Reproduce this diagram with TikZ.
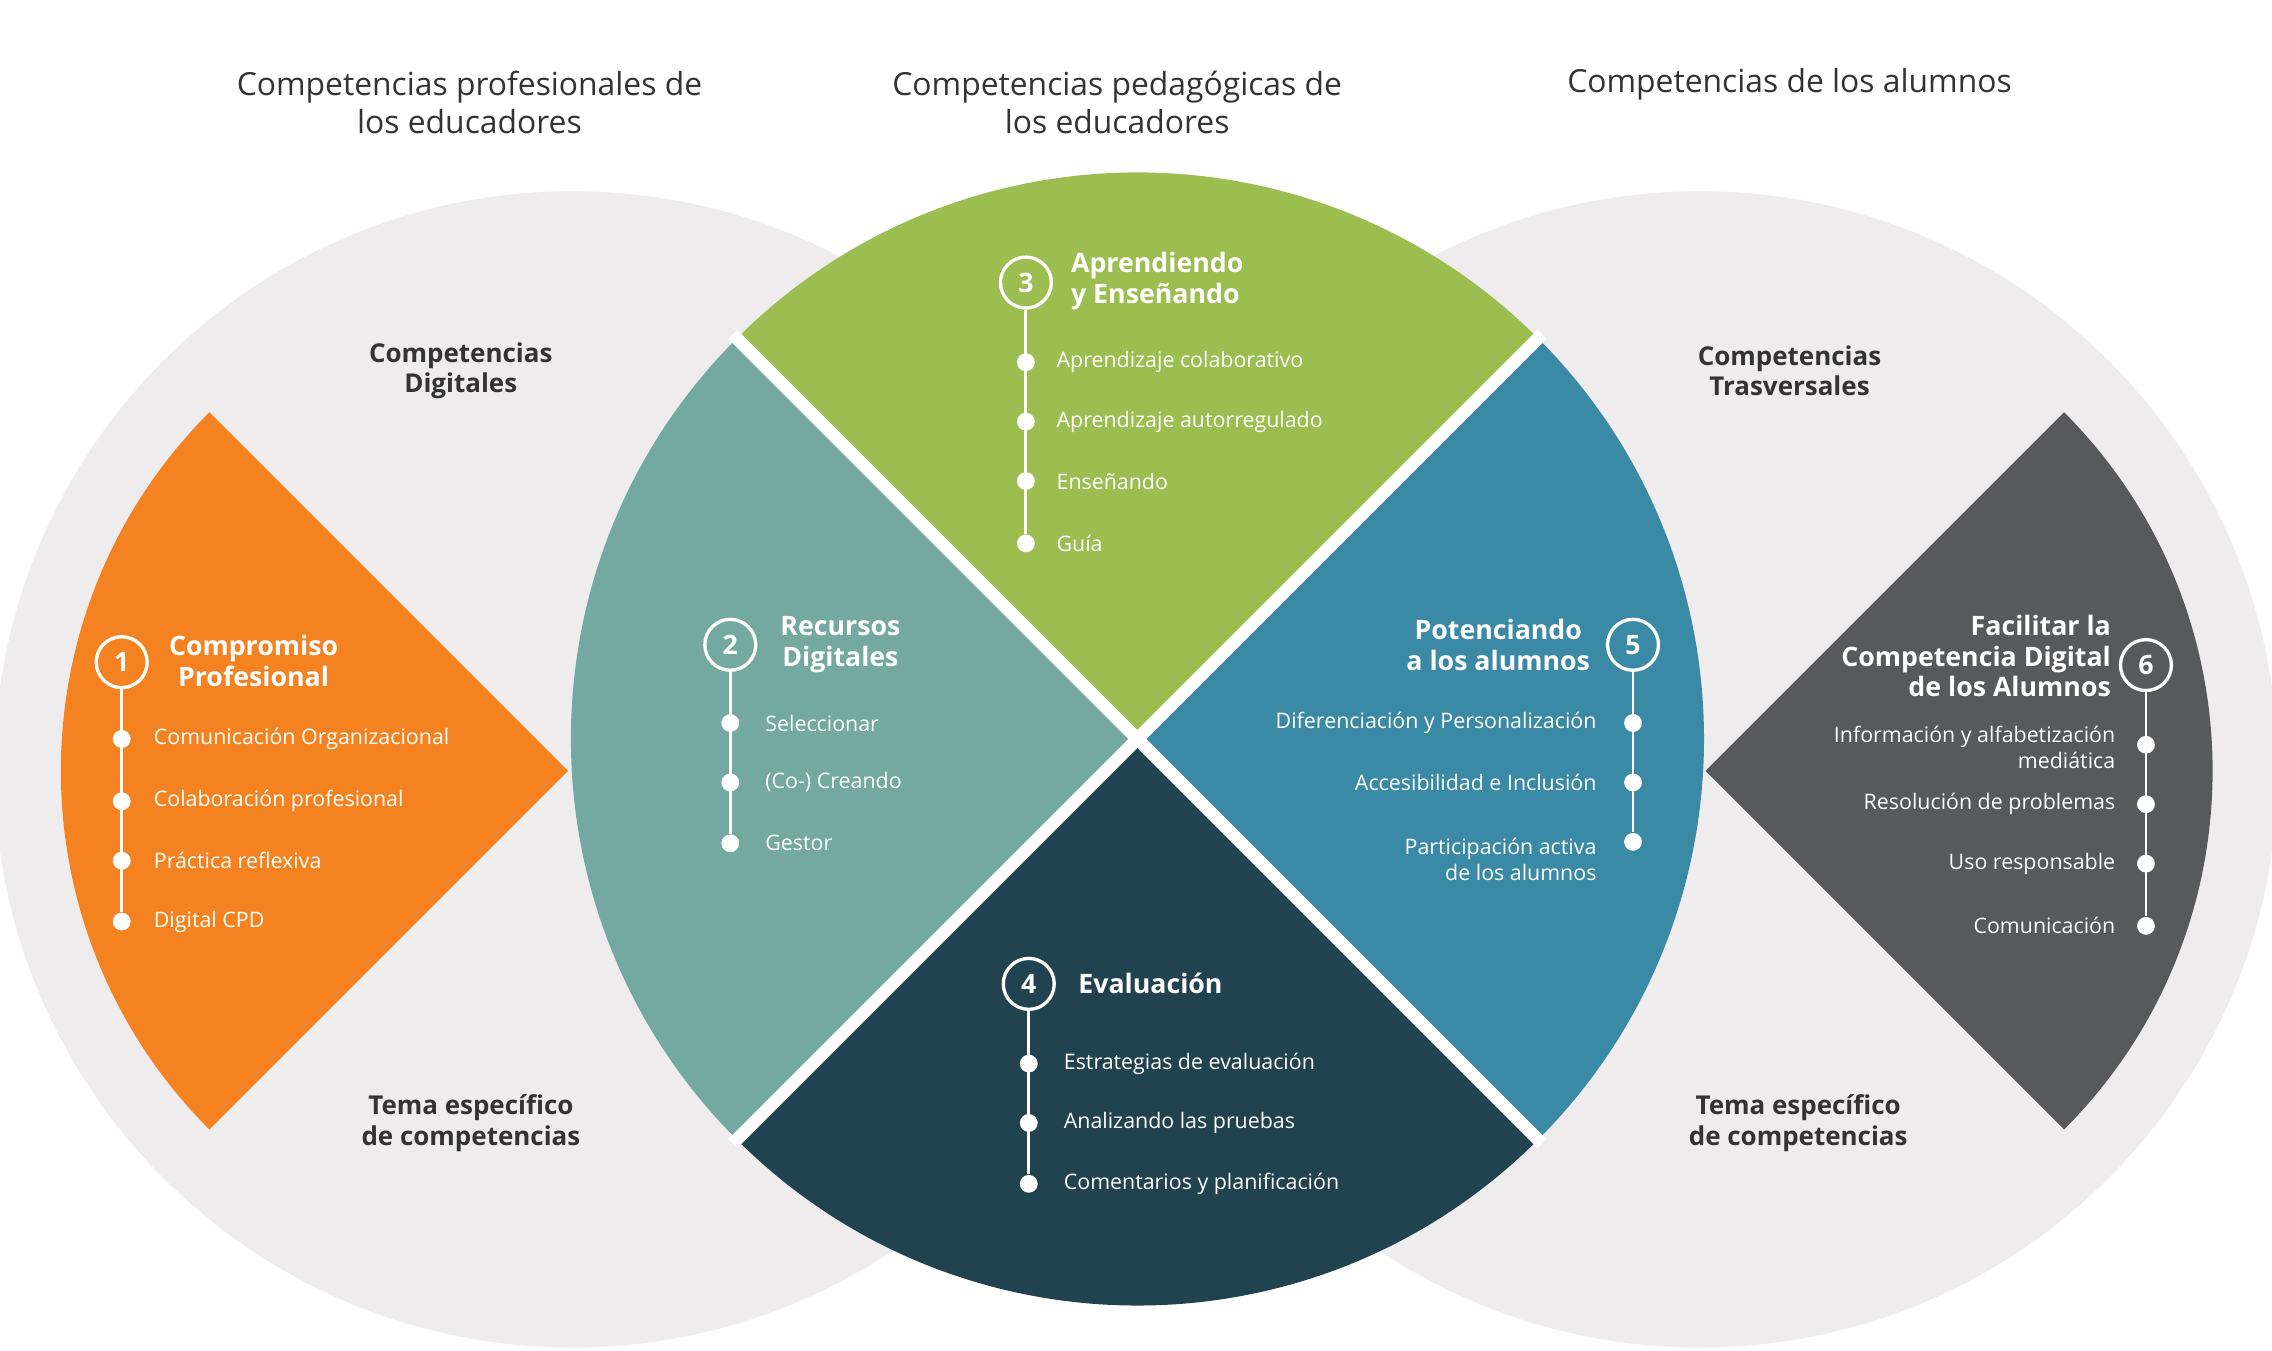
\documentclass[tikz,border=0pt]{standalone}
\usepackage{fontspec}
\setmainfont{Open Sans}
\definecolor{lgray}{HTML}{EEECED}
\definecolor{orng}{HTML}{F58220}
\definecolor{dgray}{HTML}{58595B}
\definecolor{grn}{HTML}{9CBD50}
\definecolor{teal}{HTML}{73A9A0}
\definecolor{blu}{HTML}{3A8AA6}
\definecolor{navy}{HTML}{21424F}
\definecolor{txt}{HTML}{333333}
\tikzset{
 head/.style={font=\fontsize{12.5}{15}\selectfont, text=txt, align=center},
 glab/.style={font=\bfseries\fontsize{10.2}{12}\selectfont, text=txt, align=center},
 ttl/.style={font=\bfseries\fontsize{10.5}{12}\selectfont, text=white},
 itm/.style={font=\fontsize{8.4}{10.2}\selectfont, text=white},
 num/.style={circle, draw=white, line width=1.3pt, minimum size=20pt, inner sep=0pt, font=\bfseries\fontsize{10.5}{12}\selectfont, text=white},
 dot/.style={circle, fill=white, minimum size=7pt, inner sep=0pt},
 vline/.style={white, line width=1.1pt}
}
\begin{document}
\begin{tikzpicture}[x=0.02cm,y=-0.02cm]
\useasboundingbox (0,0) rectangle (1568,932);
% gray circles
\fill[lgray] (395,531) circle[radius=399];
\fill[lgray] (1173,531) circle[radius=399];
% orange and dark sectors
\fill[orng] (392,532) -- ++(135:350) arc[start angle=135,end angle=225,radius=350] -- cycle;
\fill[dgray] (1177,532) -- ++(-45:350) arc[start angle=-45,end angle=45,radius=350] -- cycle;
% middle circle quadrants
\coordinate (c) at (785,510);
\fill[grn] (c) -- ++(225:391) arc[start angle=225,end angle=315,radius=391] -- cycle;
\fill[teal] (c) -- ++(135:391) arc[start angle=135,end angle=225,radius=391] -- cycle;
\fill[blu] (c) -- ++(-45:391) arc[start angle=-45,end angle=45,radius=391] -- cycle;
\fill[navy] (c) -- ++(45:391) arc[start angle=45,end angle=135,radius=391] -- cycle;
\draw[white, line width=5pt] (c) ++(45:395) -- ++(225:790);
\draw[white, line width=5pt] (c) ++(135:395) -- ++(315:790);
% headers
\node[head] (h1) at (324,71) {Competencias profesionales de\\los educadores};
\node[head] (h2) at (771,71) {Competencias pedagógicas de\\los educadores};
\node[head] (h3) at (1235,58) {Competencias de los alumnos};
% gray labels
\node[glab] (g1) at (318,256) {Competencias\\Digitales};
\node[glab] (g2) at (325,775) {Tema específico\\de competencias};
\node[glab] (g3) at (1235,256) {Competencias\\Trasversales};
\node[glab] (g4) at (1241,775) {Tema específico\\de competencias};
% 1
\node[num] (n1) at (84,457) {1};
\node[ttl, align=center] (t1) at (175,456) {Compromiso\\Profesional};
\foreach \y/\t [count=\i] in {510/Comunicación Organizacional,553/Colaboración profesional,594/Práctica reflexiva,636/Digital CPD}{
 \node[dot] (a\i) at (84,\y) {};
 \node[itm, anchor=west] (at\i) at (100,\y) {\t};
}
\draw[vline] (n1) -- (a4);
% 2
\node[num] (n2) at (504,445) {2};
\node[ttl, align=center] (t2) at (580,445) {Recursos\\Digitales};
\foreach \y/\t [count=\i] in {499/Seleccionar,540/(Co-) Creando,582/Gestor}{
 \node[dot] (b\i) at (504,\y) {};
 \node[itm, anchor=west] (bt\i) at (522,\y) {\t};
}
\draw[vline] (n2) -- (b3);
% 3
\node[num] (n3) at (708,195) {3};
\node[ttl, align=left, anchor=west] (t3) at (733,194) {Aprendiendo\\y Enseñando};
\foreach \y/\t [count=\i] in {250/Aprendizaje colaborativo,291/Aprendizaje autorregulado,332/Enseñando,375/Guía}{
 \node[dot] (d\i) at (708,\y) {};
 \node[itm, anchor=west] (dt\i) at (723,\y) {\t};
}
\draw[vline] (n3) -- (d4);
% 4
\node[num] (n4) at (710,679) {4};
\node[ttl, anchor=west] (t4) at (738,679) {Evaluación};
\foreach \y/\t [count=\i] in {734/Estrategias de evaluación,775/Analizando las pruebas,817/Comentarios y planificación}{
 \node[dot] (e\i) at (710,\y) {};
 \node[itm, anchor=west] (et\i) at (728,\y) {\t};
}
\draw[vline] (n4) -- (e3);
% 5
\node[num] (n5) at (1127,445) {5};
\node[ttl, align=center] (t5) at (1034,445) {Potenciando\\a los alumnos};
\node[dot] (f1) at (1127,499) {};
\node[dot] (f2) at (1127,540) {};
\node[dot] (f3) at (1127,581) {};
\node[itm, anchor=east] (ft1) at (1108,499) {Diferenciación y Personalización};
\node[itm, anchor=east] (ft2) at (1108,540) {Accesibilidad e Inclusión};
\node[itm, anchor=north east, align=right] (ft3) at (1108,572) {Participación activa\\de los alumnos};
\draw[vline] (n5) -- (f3);
% 6
\node[num] (n6) at (1481,459) {6};
\node[ttl, align=right, anchor=east] (t6) at (1463,453) {Facilitar la\\Competencia Digital\\de los Alumnos};
\node[dot] (k1) at (1481,514) {};
\node[dot] (k2) at (1481,555) {};
\node[dot] (k3) at (1481,596) {};
\node[dot] (k4) at (1481,639) {};
\node[itm, anchor=east, align=right] (kt1) at (1466,516) {Información y alfabetización\\mediática};
\node[itm, anchor=east] (kt2) at (1466,555) {Resolución de problemas};
\node[itm, anchor=east] (kt3) at (1466,596) {Uso responsable};
\node[itm, anchor=east] (kt4) at (1466,639) {Comunicación};
\draw[vline] (n6) -- (k4);
\end{tikzpicture}
\end{document}
